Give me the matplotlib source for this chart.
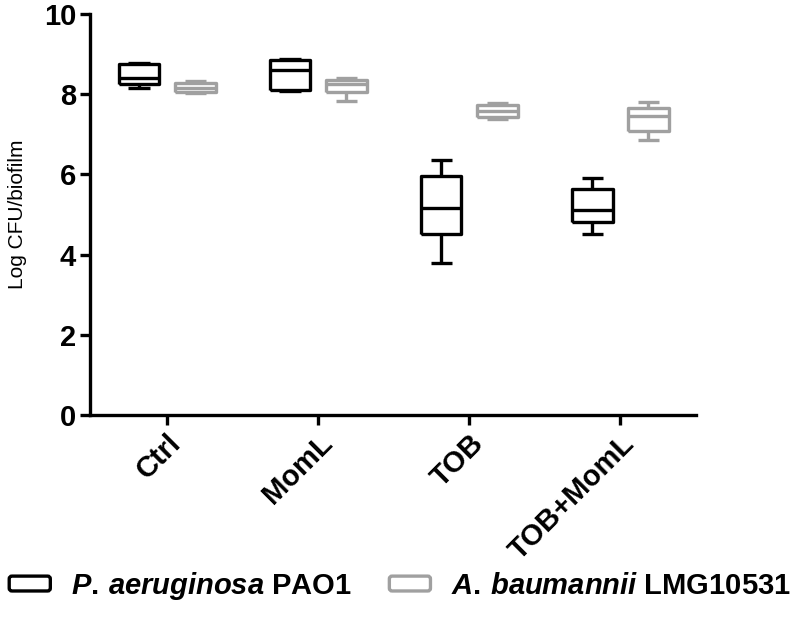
import matplotlib
matplotlib.use('Agg')
import matplotlib.pyplot as plt
from matplotlib.patches import Patch, FancyBboxPatch
from matplotlib.legend_handler import HandlerPatch

plt.rcParams['font.family'] = ['Liberation Sans', 'DejaVu Sans']
plt.rcParams['mathtext.fontset'] = 'custom'
plt.rcParams['mathtext.it'] = 'Liberation Sans:italic:bold'
plt.rcParams['mathtext.rm'] = 'Liberation Sans:bold'

groups = ['Ctrl', 'MomL', 'TOB', 'TOB+MomL']

# P. aeruginosa PAO1 (min, q1, median, q3, max)
pao1_min = [8.15, 8.08, 3.80, 4.52]
pao1_q1 = [8.25, 8.10, 4.52, 4.82]
pao1_med = [8.40, 8.60, 5.15, 5.10]
pao1_q3 = [8.75, 8.85, 5.97, 5.63]
pao1_max = [8.77, 8.87, 6.35, 5.92]

# A. baumannii LMG10531
lmg_min = [8.02, 7.82, 7.38, 6.85]
lmg_q1 = [8.06, 8.05, 7.42, 7.08]
lmg_med = [8.15, 8.25, 7.58, 7.45]
lmg_q3 = [8.27, 8.35, 7.74, 7.65]
lmg_max = [8.32, 8.40, 7.77, 7.80]

black = '#000000'
gray = '#a0a0a0'


def make_stats(lo, q1, med, q3, hi):
    return [dict(whislo=a, q1=b, med=c, q3=d, whishi=e, fliers=[])
            for a, b, c, d, e in zip(lo, q1, med, q3, hi)]


def draw_boxes(ax, stats, positions, color):
    lp = dict(color=color, linewidth=2.4, solid_joinstyle='round', solid_capstyle='butt')
    ax.bxp(stats, positions=positions, widths=0.27, capwidths=0.14,
           showfliers=False, boxprops=lp, whiskerprops=lp, capprops=lp,
           medianprops=lp)


class RoundBoxHandler(HandlerPatch):
    def create_artists(self, legend, orig_handle, xdescent, ydescent,
                       width, height, fontsize, trans):
        p = FancyBboxPatch((-xdescent + 2, -ydescent + 2), width - 4, height - 4,
                           boxstyle='round,pad=0,rounding_size=2',
                           facecolor='white', edgecolor=orig_handle.get_edgecolor(),
                           linewidth=2.4, transform=trans)
        return [p]


fig = plt.figure(figsize=(7.97, 6.28), dpi=100)
ax = fig.add_axes([0.113, 0.339, 0.76, 0.639])

x = list(range(1, len(groups) + 1))
draw_boxes(ax, make_stats(pao1_min, pao1_q1, pao1_med, pao1_q3, pao1_max),
           [i - 0.186 for i in x], black)
draw_boxes(ax, make_stats(lmg_min, lmg_q1, lmg_med, lmg_q3, lmg_max),
           [i + 0.186 for i in x], gray)

ax.set_xlim(0.49, 4.5)
ax.set_ylim(0, 10)
ax.set_yticks([0, 2, 4, 6, 8, 10])
ax.set_xticks(x)
ax.set_xticklabels(groups, rotation=45, ha='right', rotation_mode='anchor',
                   fontsize=21, fontweight='bold')
for lbl in ax.get_yticklabels():
    lbl.set_fontsize(21)
    lbl.set_fontweight('bold')
ax.set_ylabel('Log CFU/biofilm', fontsize=15, labelpad=12)

for side in ['top', 'right']:
    ax.spines[side].set_visible(False)
for side in ['left', 'bottom']:
    ax.spines[side].set_linewidth(2.4)
ax.tick_params(width=2.4, length=7, pad=3)

handles = [Patch(facecolor='white', edgecolor=black),
           Patch(facecolor='white', edgecolor=gray)]
labels = [r'$\mathit{P.\,aeruginosa}$ PAO1',
          r'$\mathit{A.\,baumannii}$ LMG10531']
fig.legend(handles, labels, loc='lower center', bbox_to_anchor=(0.5, 0.0),
           ncol=2, frameon=False, prop=dict(size=21, weight='bold'),
           handler_map={Patch: RoundBoxHandler()}, handlelength=1.6,
           handleheight=0.7, columnspacing=1.2, handletextpad=0.6)

plt.savefig('out.png', dpi=100)
